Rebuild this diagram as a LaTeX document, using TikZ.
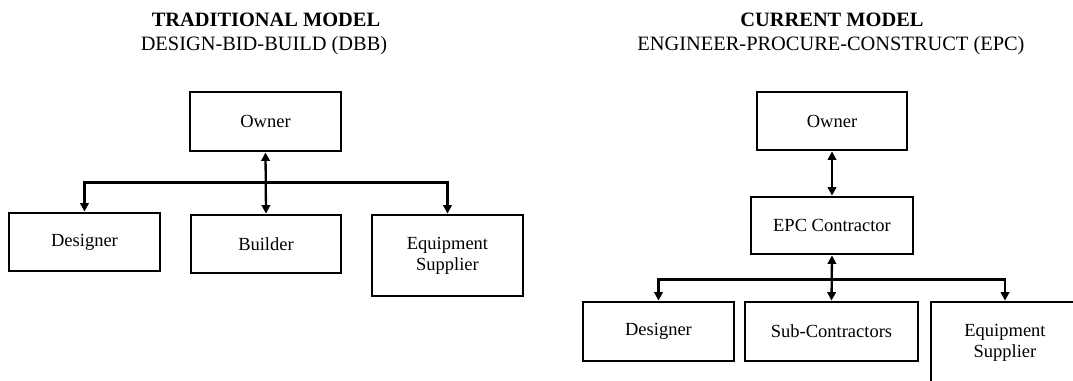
\documentclass[tikz,border=0pt]{standalone}
\usepackage{fontspec}
\setmainfont{Liberation Serif}
\usetikzlibrary{arrows.meta}
\tikzset{
  orgbox/.style={draw=black, line width=2.8pt, inner sep=0pt, align=center,
    font=\fontsize{18.5}{21}\selectfont},
  titlebold/.style={inner sep=0pt, font=\fontsize{20.4}{22}\selectfont\bfseries},
  titleplain/.style={inner sep=0pt, font=\fontsize{20.4}{22}\selectfont},
  conn/.style={line width=2.3pt, -{Triangle[length=8.5pt,width=8.5pt]}},
  conn2/.style={line width=2.3pt, {Triangle[length=8.5pt,width=8.5pt]}-{Triangle[length=8.5pt,width=8.5pt]}},
}
\begin{document}
\begin{tikzpicture}[x=1pt,y=-1pt]
\useasboundingbox (0,0) rectangle (1073,380);
\clip (0,0) rectangle (1073,380);

% ---------- Left: traditional model ----------
\node[titlebold]  (tL1) at (266,20) {TRADITIONAL MODEL};
\node[titleplain] (tL2) at (264,46) {DESIGN-BID-BUILD (DBB)};

\node[orgbox, minimum width=151pt, minimum height=59pt] (ownerL) at (265.5,121.5) {Owner};
\node[orgbox, minimum width=151pt, minimum height=58pt] (desL) at (84.5,242) {Designer};
\node[orgbox, minimum width=150pt, minimum height=58pt] (builder) at (266,244) {Builder};
\node[orgbox, minimum width=151pt, minimum height=81pt] (eqL) at (447.5,255.5) {Equipment\\Supplier};

\coordinate (jL) at (266,182.5);
\draw[conn2] (ownerL.south) -- (builder.north);
\draw[conn] (jL) -| (desL.north);
\draw[conn] (jL) -| (eqL.north);

% ---------- Right: current model ----------
\node[titlebold]  (tR1) at (832,20) {CURRENT MODEL};
\node[titleplain] (tR2) at (831,46) {ENGINEER-PROCURE-CONSTRUCT (EPC)};

\node[orgbox, minimum width=150pt, minimum height=58pt] (ownerR) at (832,121) {Owner};
\node[orgbox, minimum width=162pt, minimum height=57pt] (epc) at (832,225.5) {EPC Contractor};
\node[orgbox, minimum width=151pt, minimum height=59pt] (desR) at (658.5,331.5) {Designer};
\node[orgbox, minimum width=173pt, minimum height=59pt] (sub) at (831.5,331.5) {Sub-Contractors};
\node[orgbox, minimum width=148pt, minimum height=82pt] (eqR) at (1005,343) {Equipment\\Supplier};

\coordinate (jR) at (832,279.5);
\draw[conn2] (ownerR.south) -- (epc.north);
\draw[conn2] (epc.south) -- (sub.north);
\draw[conn] (jR) -| (desR.north);
\draw[conn] (jR) -| (eqR.north);
\end{tikzpicture}
\end{document}
